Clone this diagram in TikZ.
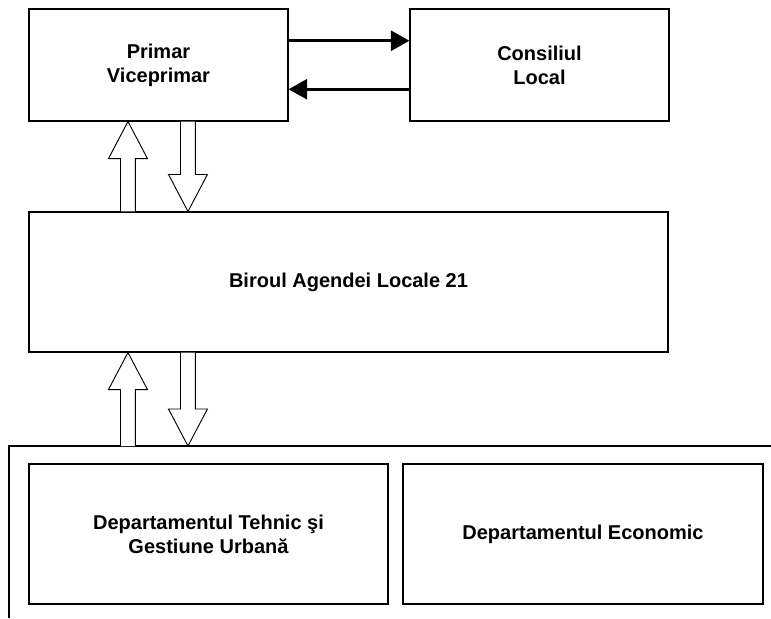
\documentclass[tikz,border=0pt]{standalone}
\usepackage{fontspec}
\setmainfont{Liberation Sans}
\usetikzlibrary{calc,arrows.meta}

% hollow block arrow from #1 (base) to #2 (tip)
\newcommand{\hollowarrow}[2]{%
  \draw[hollow] let \p1=(#1), \p2=(#2), \n1={ifthenelse(\y2>\y1,1,-1)} in
    (\x1-5.6pt,\y1) -- (\x1-5.6pt,\y2-\n1*27.75pt) -- (\x1-14.6pt,\y2-\n1*27.75pt)
    -- (\x2,\y2) -- (\x1+14.6pt,\y2-\n1*27.75pt) -- (\x1+5.6pt,\y2-\n1*27.75pt)
    -- (\x1+5.6pt,\y1);}

\begin{document}
\begin{tikzpicture}[x=0.75pt,y=-0.75pt]
	\tikzset{box/.style={draw,line width=0.8pt,align=center,inner sep=0pt,
			font=\fontsize{15}{18}\selectfont\bfseries}}
	\tikzset{blackarrow/.style={line width=2.25pt,-{Triangle[length=14pt,width=15pt]}}}
	\tikzset{hollow/.style={draw,line width=0.7pt,fill=white,line join=miter}}
	\useasboundingbox (0,0) rectangle (771,618);

	\node[box,minimum width=194.25pt,minimum height=84pt] (primar) at (158.5,65) {Primar\\Viceprimar};
	\node[box,minimum width=194.25pt,minimum height=84pt] (consiliu) at (539.5,65) {Consiliul\\Local};
	\node[box,minimum width=479.25pt,minimum height=105pt] (birou) at (348.5,282) {Biroul Agendei Locale 21};
	\node[box,minimum width=269.25pt,minimum height=105pt] (tehnic) at (208.5,534) {Departamentul Tehnic şi\\Gestiune Urbană};
	\node[box,minimum width=270pt,minimum height=105pt] (economic) at (583,534) {Departamentul Economic};

	% frame round the departments
	\coordinate (framecorner) at (9,446);
	\draw[line width=0.8pt] (9,618) -- (framecorner) -- (771,446);

	\draw[blackarrow] ([yshift=18.2pt]primar.east) -- ([yshift=18.2pt]consiliu.west);
	\draw[blackarrow] ([yshift=-18.2pt]consiliu.west) -- ([yshift=-18.2pt]primar.east);

	\coordinate (up) at ($(birou.north west)+(99.5,0)$);
	\coordinate (down) at ($(birou.north west)+(159.5,0)$);
	\hollowarrow{up}{up |- primar.south}
	\hollowarrow{down |- primar.south}{down}
	\hollowarrow{up |- framecorner}{up |- birou.south}
	\hollowarrow{down |- birou.south}{down |- framecorner}
\end{tikzpicture}
\end{document}
